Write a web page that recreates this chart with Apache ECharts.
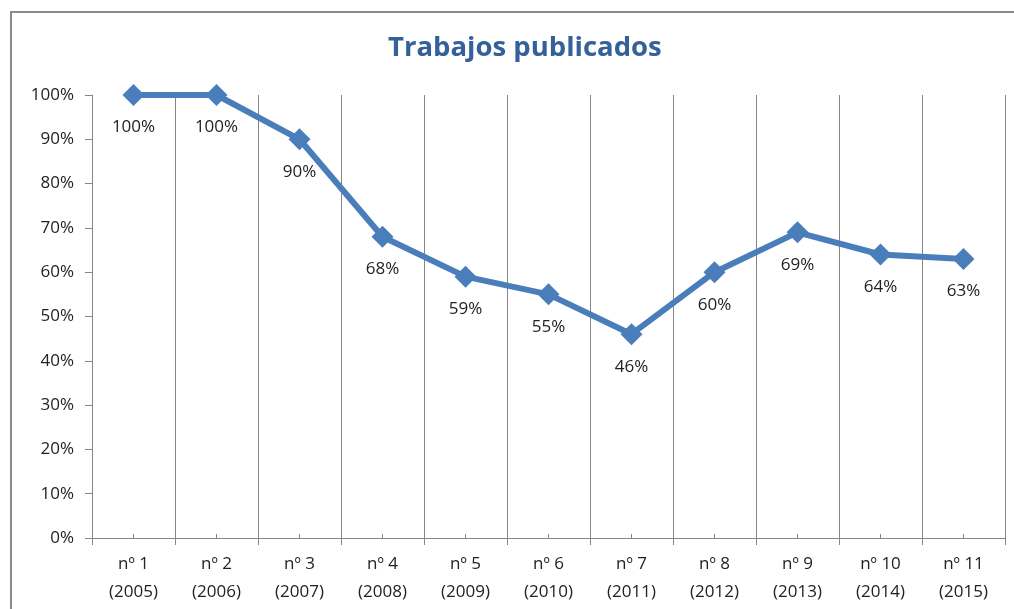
<!DOCTYPE html>
<html>
<head>
<meta charset="utf-8">
<script src="https://cdn.jsdelivr.net/npm/echarts@6/dist/echarts.min.js"></script>
<style>
html,body{margin:0;padding:0;background:#fff;}
#chart{width:1014px;height:609px;}
</style>
</head>
<body>
<div id="chart"></div>
<script>
const categories = ['nº 1\n(2005)','nº 2\n(2006)','nº 3\n(2007)','nº 4\n(2008)','nº 5\n(2009)','nº 6\n(2010)','nº 7\n(2011)','nº 8\n(2012)','nº 9\n(2013)','nº 10\n(2014)','nº 11\n(2015)'];
const values = [100, 100, 90, 68, 59, 55, 46, 60, 69, 64, 63];
const yTicks = [0, 10, 20, 30, 40, 50, 60, 70, 80, 90, 100];
const titleText = 'Trabajos publicados';

const font = '"Open Sans", "Liberation Sans", sans-serif';
const axisGray = '#868686';

const chart = echarts.init(document.getElementById('chart'));
chart.setOption({
  animation: false,
  backgroundColor: '#ffffff',
  textStyle: { fontFamily: font },
  title: {
    text: titleText,
    left: 383,
    top: 29,
    textStyle: { fontFamily: font, fontSize: 27.5, fontWeight: 'bold', color: '#34619a' }
  },
  graphic: [{
    type: 'rect',
    shape: { x: 11, y: 12, width: 1200, height: 800 },
    style: { fill: 'none', stroke: '#8a8a8a', lineWidth: 2 },
    silent: true,
    z: -10
  }],
  grid: { left: 92, right: 9, top: 95, bottom: 71 },
  xAxis: [{
    type: 'category',
    data: categories,
    boundaryGap: true,
    axisLine: { show: true, lineStyle: { color: axisGray, width: 1 } },
    axisTick: { show: true, inside: false, length: 7, lineStyle: { color: axisGray } },
    splitLine: { show: true, lineStyle: { color: axisGray, width: 1 } },
    axisLabel: { fontFamily: font, fontSize: 17, color: '#222', lineHeight: 28, margin: 12, interval: 0 }
  }, {
    type: 'category',
    data: categories,
    position: 'bottom',
    boundaryGap: true,
    axisLine: { show: false },
    axisTick: { show: true, inside: true, alignWithLabel: true, length: 4, lineStyle: { color: axisGray } },
    axisLabel: { show: false },
    splitLine: { show: false }
  }],
  yAxis: {
    type: 'value',
    min: yTicks[0],
    max: yTicks[yTicks.length - 1],
    interval: 10,
    axisLine: { show: true, lineStyle: { color: axisGray, width: 1 } },
    axisTick: { show: true, length: 7, lineStyle: { color: axisGray } },
    splitLine: { show: false },
    axisLabel: { fontFamily: font, fontSize: 17, color: '#222', margin: 18, formatter: '{value}%' }
  },
  series: [{
    type: 'line',
    data: values,
    xAxisIndex: 0,
    symbol: 'diamond',
    symbolSize: 22,
    lineStyle: { color: '#4a7ebb', width: 6 },
    itemStyle: { color: '#4a7ebb' },
    label: {
      show: true,
      position: 'bottom',
      distance: 13,
      fontFamily: font,
      fontSize: 17,
      color: '#222',
      formatter: '{c}%'
    }
  }]
});
</script>
</body>
</html>
